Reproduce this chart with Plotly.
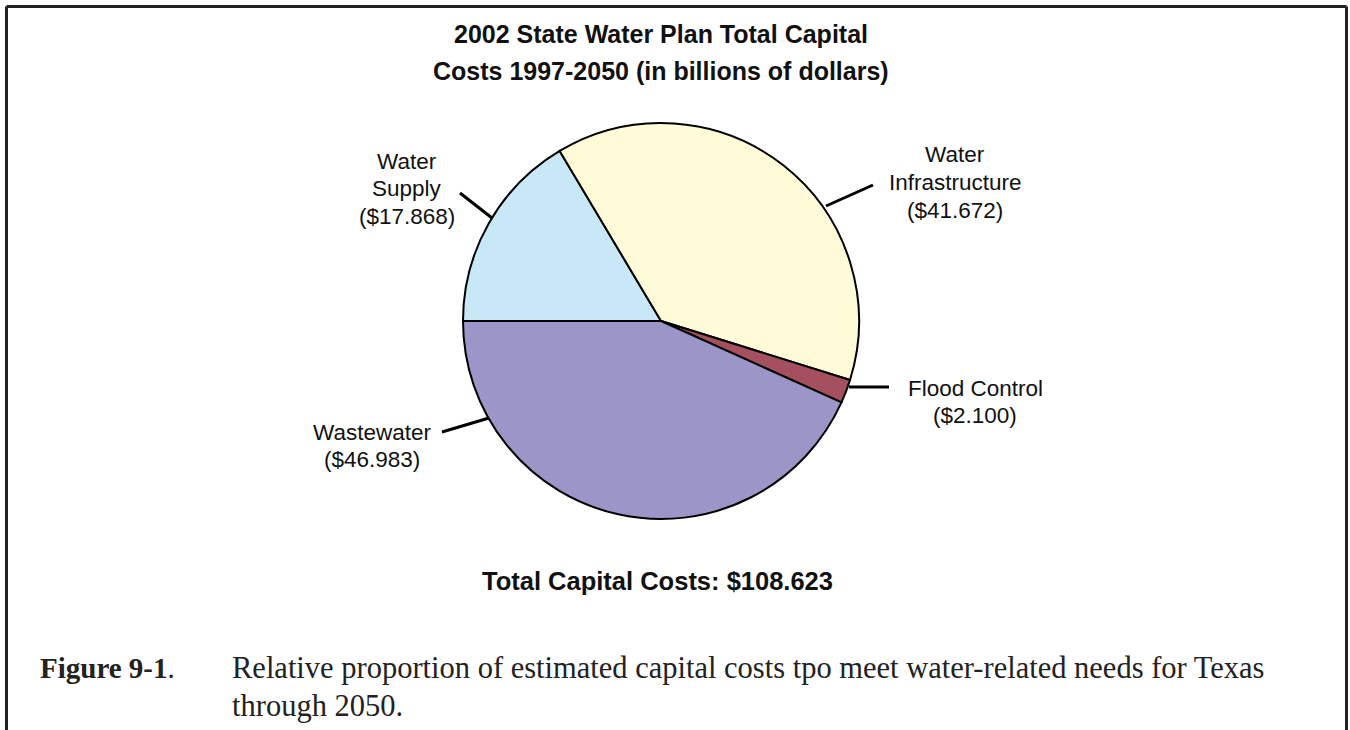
import plotly.graph_objects as go

# ---- data ----
categories = ["Water Supply", "Water Infrastructure", "Flood Control", "Wastewater"]
values = [17.868, 41.672, 2.100, 46.983]
name_lines = [["Water", "Supply"], ["Water", "Infrastructure"], ["Flood Control"], ["Wastewater"]]
colors = ["#C8E8F8", "#FFFBD8", "#A4505E", "#9C95C8"]
total_value = 108.623
title_lines = ["2002 State Water Plan Total Capital", "Costs 1997-2050 (in billions of dollars)"]
caption_label = "Figure 9-1"
caption_lines = ["Relative proportion of estimated capital costs tpo meet water-related needs for Texas",
                 "through 2050."]

W, H = 1350, 730


def px(x):
    return x / W


def py(y):
    return 1 - y / H


fig = go.Figure()
fig.add_trace(go.Pie(
    labels=categories, values=values, sort=False, direction="clockwise", rotation=270,
    marker=dict(colors=colors, line=dict(color="black", width=2)),
    textinfo="none", hoverinfo="label+value", showlegend=False,
    domain=dict(x=[px(463), px(859)], y=[py(519), py(123)]),
))

annotations = []
sans = "Liberation Sans, Arial, sans-serif"
serif = "Liberation Serif, Times New Roman, serif"

# title
for i, t in enumerate(title_lines):
    annotations.append(dict(text="<b>%s</b>" % t, x=px(661), y=py(34 + 37 * i), xref="paper", yref="paper",
                            xanchor="center", yanchor="middle", showarrow=False,
                            font=dict(family=sans, size=25, color="#111")))

# slice labels
label_anchor = [(407, 161), (955, 155), (975, 388), (372, 432)]
line_step = 27.5
for (cx, cy), nl, v in zip(label_anchor, name_lines, values):
    lines = nl + ["($%.3f)" % v]
    for j, t in enumerate(lines):
        annotations.append(dict(text=t, x=px(cx), y=py(cy + line_step * j), xref="paper", yref="paper",
                                xanchor="center", yanchor="middle", showarrow=False,
                                font=dict(family=sans, size=22.5, color="#111")))

# total
annotations.append(dict(text="<b>Total Capital Costs: $%.3f</b>" % total_value, x=px(657), y=py(581),
                        xref="paper", yref="paper", xanchor="center", yanchor="middle", showarrow=False,
                        font=dict(family=sans, size=25.5, color="#111")))

# caption
annotations.append(dict(text="<b>%s</b>." % caption_label, x=px(38), y=py(668), xref="paper", yref="paper",
                        xanchor="left", yanchor="middle", showarrow=False,
                        font=dict(family=serif, size=29, color="#222")))
for i, t in enumerate(caption_lines):
    annotations.append(dict(text=t, x=px(230), y=py(668 + 38 * i), xref="paper", yref="paper",
                            xanchor="left", yanchor="middle", showarrow=False,
                            font=dict(family=serif, size=30.5, color="#222")))

# leader lines and frame
leaders = [((460, 193), (492, 218)), ((826, 206), (873, 185)), ((849, 387), (889, 387)), ((442, 432), (489, 418))]
shapes = []
for (x0, y0), (x1, y1) in leaders:
    shapes.append(dict(type="line", xref="paper", yref="paper", x0=px(x0), y0=py(y0), x1=px(x1), y1=py(y1),
                       line=dict(color="black", width=3)))
frame = [((6.5, 6.5), (6.5, 730)), ((6.5, 6.5), (1346.5, 6.5)), ((1346.5, 6.5), (1346.5, 730))]
for (x0, y0), (x1, y1) in frame:
    shapes.append(dict(type="line", xref="paper", yref="paper", x0=px(x0), y0=py(y0), x1=px(x1), y1=py(y1),
                       line=dict(color="#222", width=3)))

fig.update_layout(width=W, height=H, margin=dict(l=0, r=0, t=0, b=0),
                  paper_bgcolor="white", plot_bgcolor="white",
                  annotations=annotations, shapes=shapes)

fig.write_html("out.html", config={"displayModeBar": False},
               post_script="document.body.style.margin='0';")
